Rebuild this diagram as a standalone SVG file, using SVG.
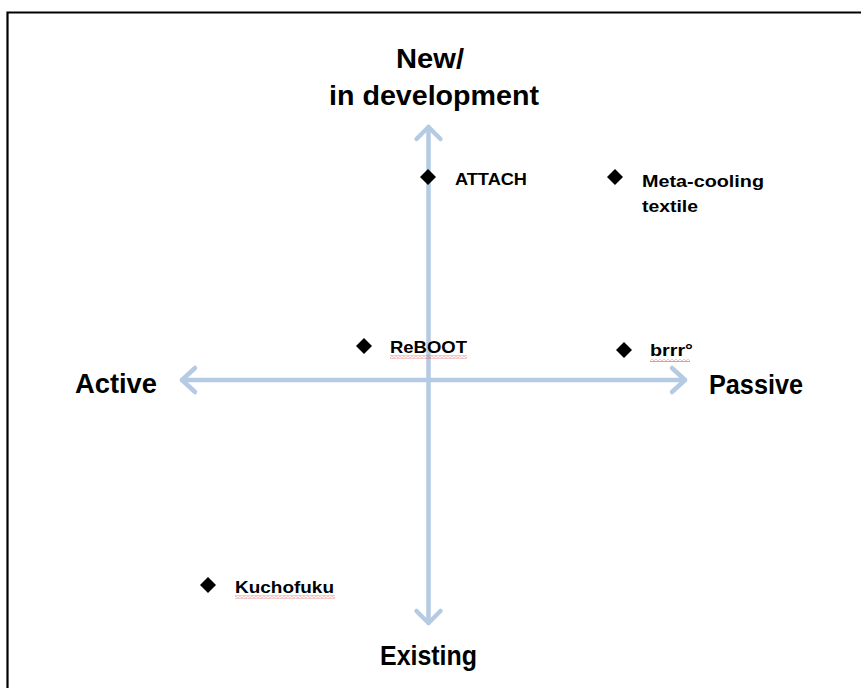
<svg xmlns="http://www.w3.org/2000/svg" width="861" height="688" viewBox="0 0 861 688">
<defs>
<style>
.axis{stroke:#b5cbe4;stroke-width:4.5;fill:none;stroke-linecap:round;stroke-linejoin:round}
.big{font-family:"Liberation Sans",Arial,sans-serif;font-weight:bold;font-size:27px;fill:#000}
.lbl{font-family:"Liberation Sans",Arial,sans-serif;font-weight:bold;font-size:16.5px;fill:#000}
.dot{fill:#000}
.sq{fill:url(#squig)}
</style>
<pattern id="squig" width="4" height="3" patternUnits="userSpaceOnUse">
<path d="M0 2.2 L2 0.8 L4 2.2" fill="none" stroke="#e03030" stroke-width="0.8"/>
</pattern>
</defs>
<rect width="861" height="688" fill="#fff"/>
<path d="M7.5 688 V12.5 H861" fill="none" stroke="#000" stroke-width="2.2"/>

<g id="connectors">
<path class="axis" d="M428.5 127 V623"/>
<path class="axis" d="M416.5 139 L428.5 127 L440.5 139"/>
<path class="axis" d="M416.5 611 L428.5 623 L440.5 611"/>
<path class="axis" d="M182 380 H685"/>
<path class="axis" d="M195 368 L182 380 L195 392"/>
<path class="axis" d="M672 368 L685 380 L672 392"/>
</g>

<g id="axis-top">
<text class="big" x="430" y="68" text-anchor="middle" textLength="68" lengthAdjust="spacingAndGlyphs">New/</text>
<text class="big" x="434" y="105" text-anchor="middle" textLength="210" lengthAdjust="spacingAndGlyphs">in development</text>
</g>
<g id="axis-left"><text class="big" x="75" y="393" textLength="82" lengthAdjust="spacingAndGlyphs">Active</text></g>
<g id="axis-right"><text class="big" x="709" y="394" textLength="94" lengthAdjust="spacingAndGlyphs">Passive</text></g>
<g id="axis-bottom"><text class="big" x="380" y="665" textLength="97" lengthAdjust="spacingAndGlyphs">Existing</text></g>

<g id="attach">
<path class="dot" d="M428 169 L436 177 L428 185 L420 177 Z"/>
<text class="lbl" x="455" y="185" textLength="72" lengthAdjust="spacingAndGlyphs">ATTACH</text>
</g>
<g id="meta-cooling">
<path class="dot" d="M615 169 L623 177 L615 185 L607 177 Z"/>
<text class="lbl" x="642" y="187" textLength="122" lengthAdjust="spacingAndGlyphs">Meta-cooling</text>
<text class="lbl" x="642" y="212" textLength="56" lengthAdjust="spacingAndGlyphs">textile</text>
</g>
<g id="reboot">
<path class="dot" d="M364 338 L372 346 L364 354 L356 346 Z"/>
<text class="lbl" x="390" y="353" textLength="77" lengthAdjust="spacingAndGlyphs">ReBOOT</text>
<rect class="sq" x="390" y="355.5" width="77" height="3"/>
</g>
<g id="brrr">
<path class="dot" d="M624 342 L632 350 L624 358 L616 350 Z"/>
<text class="lbl" x="650" y="356" textLength="43" lengthAdjust="spacingAndGlyphs">brrr°</text>
<rect class="sq" x="650" y="359" width="40" height="3"/>
</g>
<g id="kuchofuku">
<path class="dot" d="M208 577 L216 585 L208 593 L200 585 Z"/>
<text class="lbl" x="235" y="593" textLength="99" lengthAdjust="spacingAndGlyphs">Kuchofuku</text>
<rect class="sq" x="235" y="595.5" width="100" height="3"/>
</g>
</svg>
